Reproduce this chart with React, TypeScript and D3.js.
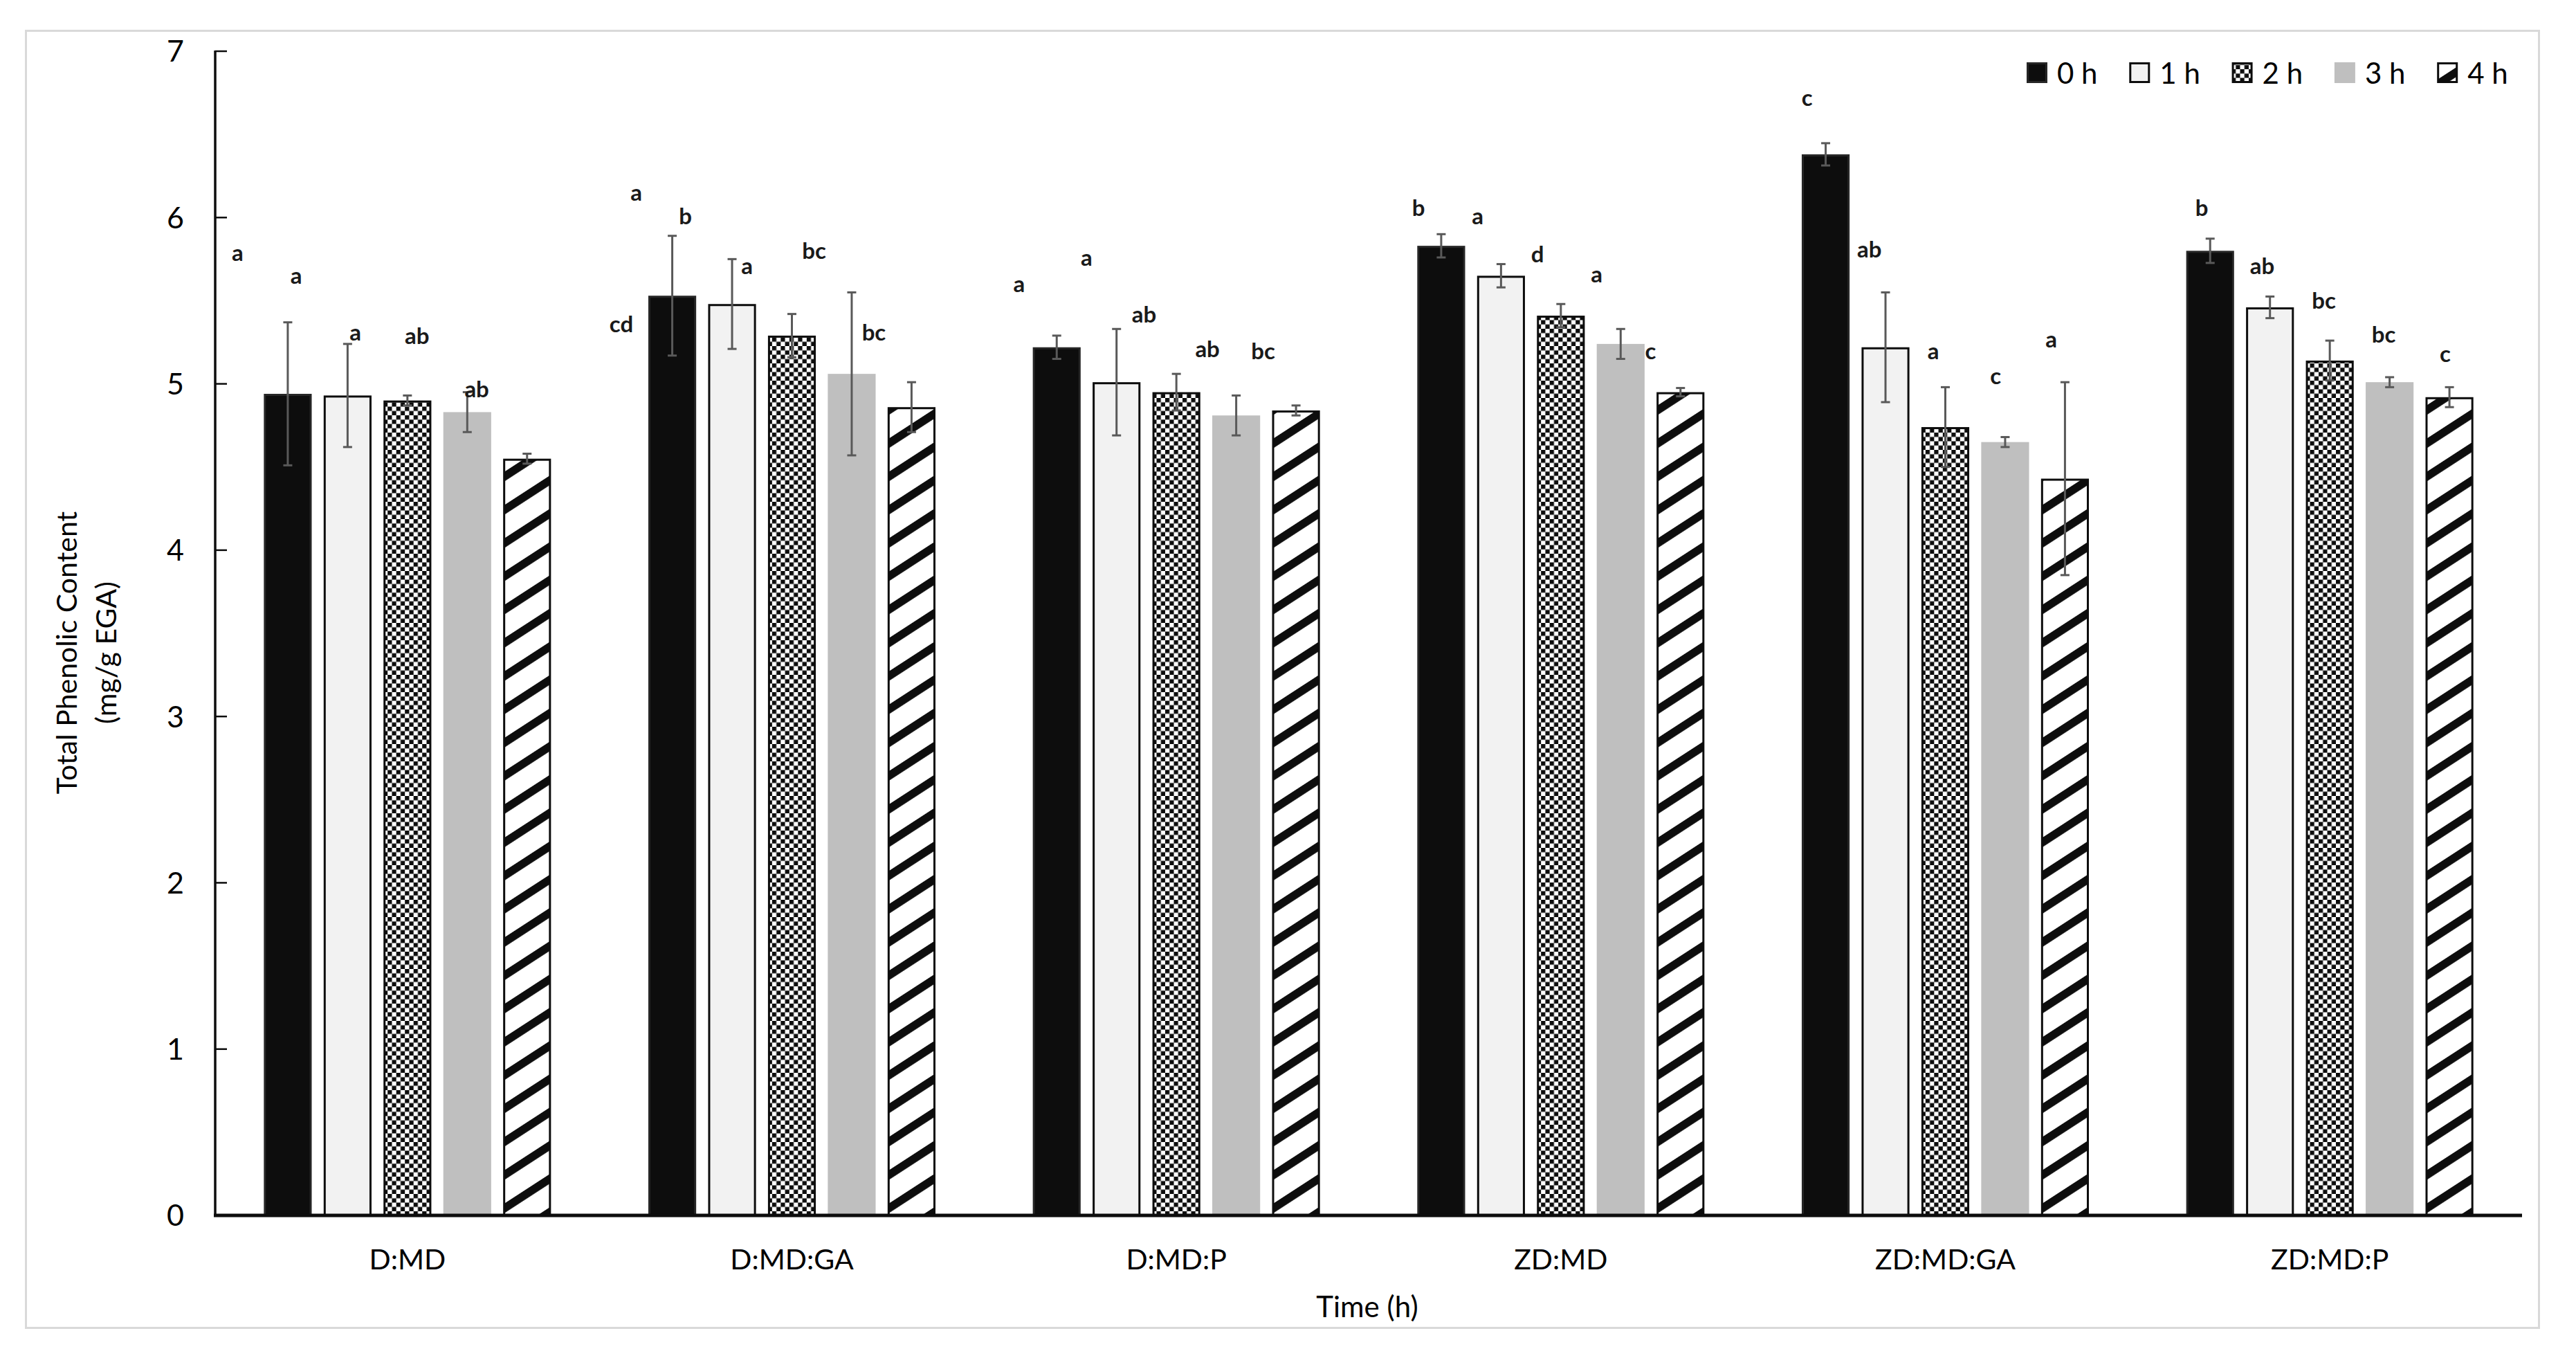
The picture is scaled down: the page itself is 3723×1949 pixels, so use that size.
import React from "react";
import * as d3 from "d3";

const categories = ["D:MD", "D:MD:GA", "D:MD:P", "ZD:MD", "ZD:MD:GA", "ZD:MD:P"];
const seriesNames = ["0 h", "1 h", "2 h", "3 h", "4 h"];

const values0h = [4.94, 5.53, 5.22, 5.83, 6.38, 5.80];
const values1h = [4.93, 5.48, 5.01, 5.65, 5.22, 5.46];
const values2h = [4.90, 5.29, 4.95, 5.41, 4.74, 5.14];
const values3h = [4.83, 5.06, 4.81, 5.24, 4.65, 5.01];
const values4h = [4.55, 4.86, 4.84, 4.95, 4.43, 4.92];

const err0h = [0.43, 0.36, 0.07, 0.07, 0.067, 0.073];
const err1h = [0.31, 0.27, 0.32, 0.07, 0.33, 0.065];
const err2h = [0.03, 0.13, 0.11, 0.07, 0.24, 0.12];
const err3h = [0.12, 0.49, 0.12, 0.09, 0.03, 0.03];
const err4h = [0.03, 0.15, 0.03, 0.025, 0.58, 0.06];

const yTicks = [0, 1, 2, 3, 4, 5, 6, 7];

// significance letters: group index, horizontal slot (in bar steps from first bar), height (data units), text
const letterGroup = [0, 0, 0, 0, 0, 1, 1, 1, 1, 1, 1, 2, 2, 2, 2, 2, 3, 3, 3, 3, 3, 4, 4, 4, 4, 4, 5, 5, 5, 5, 5];
const letterSlot = [-0.84, 0.14, 1.13, 2.16, 3.16, -0.6, -0.85, 0.22, 1.25, 2.37, 3.37, -0.63, 0.5, 1.46, 2.52, 3.45, -0.38, 0.61, 1.61, 2.6, 3.5, -0.31, 0.73, 1.8, 2.84, 3.77, -0.14, 0.87, 1.9, 2.9, 3.93];
const letterValue = [5.74, 5.6, 5.26, 5.24, 4.92, 6.1, 5.31, 5.96, 5.66, 5.75, 5.26, 5.55, 5.71, 5.37, 5.16, 5.15, 6.01, 5.96, 5.73, 5.61, 5.15, 6.67, 5.76, 5.15, 5.0, 5.22, 6.01, 5.66, 5.45, 5.25, 5.13];
const letterText = ["a", "a", "a", "ab", "ab", "a", "cd", "b", "a", "bc", "bc", "a", "a", "ab", "ab", "bc", "b", "a", "d", "a", "c", "c", "ab", "a", "c", "a", "b", "ab", "bc", "bc", "c"];

const W = 3723;
const H = 1949;
const FONT = "Lato, 'Open Sans', sans-serif";

const seriesValues = [values0h, values1h, values2h, values3h, values4h];
const seriesErrors = [err0h, err1h, err2h, err3h, err4h];

const fills = ["#0d0d0d", "#f2f2f2", "url(#checker)", "#bfbfbf", "url(#stripes)"];
const strokes = ["#262626", "#0d0d0d", "#0d0d0d", "none", "#0d0d0d"];

export default function App() {
  const x0 = d3
    .scaleBand<string>()
    .domain(categories)
    .range([311, 3645])
    .paddingInner(0.222)
    .paddingOuter(0.111);
  const x1 = d3
    .scaleBand<string>()
    .domain(seriesNames)
    .range([0, x0.bandwidth()])
    .paddingInner(0.2)
    .paddingOuter(0.1);
  const y = d3.scaleLinear().domain([0, 7]).range([1756, 74]);
  const bw = x1.bandwidth();

  const legendStart = 2929;
  const legendStep = 148.3;

  return (
    <svg
      width={W}
      height={H}
      style={{ position: "absolute", left: 0, top: 0, background: "#fff" }}
      fontFamily={FONT}
    >
      <defs>
        <pattern id="checker" width={12.5} height={12.5} patternUnits="userSpaceOnUse">
          <rect width={12.5} height={12.5} fill="#ffffff" />
          <rect width={6.25} height={6.25} fill="#0d0d0d" />
          <rect x={6.25} y={6.25} width={6.25} height={6.25} fill="#0d0d0d" />
        </pattern>
        <pattern
          id="stripes"
          width={20}
          height={40.3}
          patternUnits="userSpaceOnUse"
          patternTransform="rotate(-33)"
        >
          <rect width={20} height={40.3} fill="#ffffff" />
          <rect width={20} height={11.7} fill="#0d0d0d" />
        </pattern>
      </defs>

      <rect x={0} y={0} width={W} height={H} fill="#ffffff" />
      <rect x={37.5} y={44.5} width={3632} height={1874} fill="none" stroke="#d9d9d9" strokeWidth={3} />

      {/* bars */}
      {categories.map((cat, gi) => (
        <g key={cat} transform={`translate(${x0(cat)},0)`}>
          {seriesNames.map((s, si) => {
            const v = seriesValues[si][gi];
            const e = seriesErrors[si][gi];
            const bx = x1(s)!;
            const cx = bx + bw / 2;
            const sw = strokes[si] === "none" ? 0 : 3;
            return (
              <g key={s}>
                <rect
                  x={bx + sw / 2}
                  y={y(v) + sw / 2}
                  width={bw - sw}
                  height={y(0) - y(v) - sw / 2}
                  fill={fills[si]}
                  stroke={strokes[si]}
                  strokeWidth={sw}
                />
                <g stroke="#595959" strokeWidth={3}>
                  <line x1={cx} x2={cx} y1={y(v + e)} y2={y(v - e)} />
                  <line x1={cx - 6.5} x2={cx + 6.5} y1={y(v + e)} y2={y(v + e)} />
                  <line x1={cx - 6.5} x2={cx + 6.5} y1={y(v - e)} y2={y(v - e)} />
                </g>
              </g>
            );
          })}
        </g>
      ))}

      {/* significance letters */}
      {letterText.map((t, i) => {
        const cat = categories[letterGroup[i]];
        const base = x0(cat)! + x1(seriesNames[0])! + bw / 2;
        return (
          <text
            key={i}
            x={base + letterSlot[i] * x1.step()}
            y={y(letterValue[i])}
            textAnchor="middle"
            fontSize={33}
            fontWeight="bold"
            fill="#1a1a1a"
          >
            {t}
          </text>
        );
      })}

      {/* y axis */}
      <line x1={311} x2={311} y1={y(7) - 1} y2={y(0)} stroke="#0d0d0d" strokeWidth={3.5} />
      {yTicks.map((t) => (
        <g key={t}>
          <line x1={311} x2={328} y1={y(t)} y2={y(t)} stroke="#0d0d0d" strokeWidth={2.5} />
          <text x={266} y={y(t)} dy="0.36em" textAnchor="end" fontSize={43} fill="#000">
            {t}
          </text>
        </g>
      ))}

      {/* x axis */}
      <line x1={309} x2={3645} y1={y(0)} y2={y(0)} stroke="#0d0d0d" strokeWidth={5} />
      {categories.map((cat) => (
        <text
          key={cat}
          x={x0(cat)! + x0.bandwidth() / 2}
          y={1834}
          textAnchor="middle"
          fontSize={41}
          fill="#000"
        >
          {cat}
        </text>
      ))}
      <text x={1976} y={1903} textAnchor="middle" fontSize={42} fill="#000">
        Time (h)
      </text>

      {/* y title */}
      <text transform="translate(111,943) rotate(-90)" textAnchor="middle" fontSize={41} fill="#000">
        Total Phenolic Content
      </text>
      <text transform="translate(168,943) rotate(-90)" textAnchor="middle" fontSize={41} fill="#000">
        (mg/g EGA)
      </text>

      {/* legend */}
      {seriesNames.map((s, si) => {
        const lx = legendStart + si * legendStep;
        const sw = strokes[si] === "none" ? 0 : 3;
        return (
          <g key={s}>
            <rect
              x={lx + sw / 2}
              y={90 + sw / 2}
              width={30 - sw}
              height={30 - sw}
              fill={fills[si]}
              stroke={strokes[si]}
              strokeWidth={sw}
            />
            <text x={lx + 44} y={121} fontSize={42} fill="#000">
              {s}
            </text>
          </g>
        );
      })}
    </svg>
  );
}
